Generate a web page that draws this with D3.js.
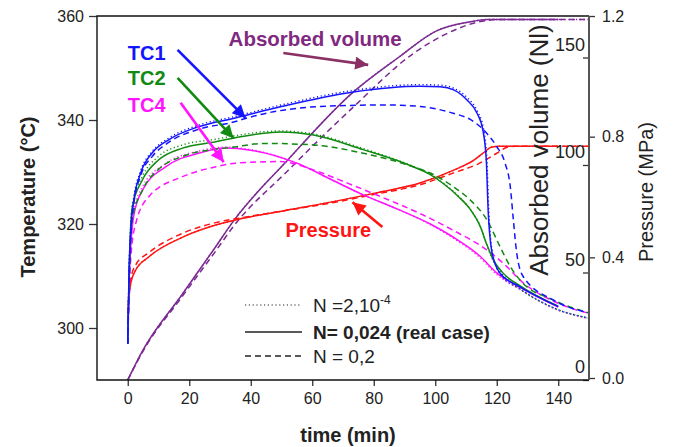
<!DOCTYPE html>
<html>
<head>
<meta charset="utf-8">
<script src="https://cdnjs.cloudflare.com/ajax/libs/d3/7.8.5/d3.min.js"></script>
<style>
body{margin:0;background:#fff;}
svg text{font-family:"Liberation Sans",Arial,sans-serif;fill:#222;}
</style>
</head>
<body>
<div id="chart"></div>
<script>
// time (min), temperature (degC) / volume (Nl) / pressure (MPa)
var timeTicks = [0,20,40,60,80,100,120,140];
var tempTicks = [300,320,340,360];
var volTicks = [0,50,100,150];
var presTicks = [0,0.4,0.8,1.2];

var tc1Solid = [[0,297],[0.4,310],[1,318.8],[2,324.6],[4.2,329.8],[8,333.7],[13.3,336.2],[23,338.7],[35,340.4],[50,342.6],[73.4,345.4],[95,346.5],[101.6,346.4],[106,345.8],[110.4,343.8],[113.6,341.3],[115.5,338],[116.6,332.3],[117.2,322.7],[118.5,314.4],[121,310.6],[127.6,307.9],[140,304.1]];
var tc1Dotted = [[0,297],[0.4,310.5],[1,319.2],[2,325],[4.2,330.2],[8,334],[13.3,336.5],[23,339],[35,340.7],[50,342.9],[73.4,345.7],[95,346.8],[101.6,346.7],[106,346.1],[110.4,344.3],[113.6,341.8],[115.7,338.3],[116.8,332.3],[117.4,322.7],[118.7,314.2],[121.2,310.3],[127.6,307.5],[139.6,303.6],[150,301.9]];
var tc1Dashed = [[0,297],[0.5,310],[1,318],[2,324],[4.2,329.3],[8,333],[13.3,335.7],[23,338.2],[35,339.7],[37.7,340.2],[62.7,342.6],[84.4,342.9],[95.1,342.6],[105.8,341.3],[111.4,340.1],[116.8,337.4],[120,334.9],[122.7,331.7],[124.4,327.2],[125.4,320.8],[126.5,314.4],[128.6,309.9],[138.3,305.4],[150,302.9]];

var tc2Solid = [[0,297],[0.5,312],[1.5,323.3],[4.8,328.5],[10,332.3],[17.8,334.6],[28.6,335.8],[35,336.6],[49.7,337.7],[60.4,337.1],[76.6,334.3],[87.6,332.2],[92,331.2],[98.4,329.5],[103,327.6],[107.5,325.3],[111.4,322.8],[114.6,319.6],[116.8,316],[118.8,313.2],[122,310.6],[127.6,308.1],[140,304.2]];
var tc2Dotted = [[0,297],[0.5,312.5],[1.5,323.8],[4.8,329.2],[10,333],[17.8,335.2],[28.6,336.3],[35,337],[49.7,337.9],[60.4,337.3],[76.6,334.5],[87.6,332.3],[92,331.3],[98.4,329.6],[103,327.7],[107.5,325.4],[111.4,322.8],[114.6,319.6],[116.8,315.9],[118.8,313],[122,310.3],[127.6,307.5],[139.6,303.6],[150,301.9]];
var tc2Dashed = [[0,297],[0.5,310],[1.5,321],[4.8,326.5],[10,330.5],[17.8,333],[28.6,334.4],[33.4,334.7],[44.2,335.5],[60.4,335.2],[76.6,333.6],[92.9,331],[98.4,329.8],[105.8,327.2],[111.4,324.6],[116.8,320.8],[121.1,315.6],[124.4,311.8],[127.6,309.2],[138.3,305.4],[150,302.9]];

var tc4Solid = [[0,297],[0.4,308],[1.9,321.4],[4.8,326.5],[12.3,331],[23,333.6],[31.8,334.6],[40,334.2],[55,331.7],[66,328.6],[76.6,325.6],[87.6,322.9],[98.4,320],[105.8,317.5],[114.6,313.8],[120,310.6],[127.6,307.8],[140,304]];
var tc4Dotted = [[0,297],[0.4,308.5],[1.9,322],[4.8,327.2],[12.3,331.6],[23,334],[31.8,334.8],[40,334.3],[55,331.7],[66,328.6],[76.6,325.6],[87.6,322.9],[98.4,319.9],[105.8,317.3],[114.6,313.5],[120,310.3],[127.6,307.4],[139.6,303.5],[150,301.8]];
var tc4Dashed = [[0,297],[0.5,308],[1.2,315],[2.6,320.1],[6.9,325.3],[17.8,329.1],[28.6,331],[35,331.7],[49.7,332],[60.4,330.4],[71.3,327.9],[82.1,325.3],[95.1,322],[105.8,318.8],[116.8,315],[123.3,311.8],[127.6,309.2],[138.3,305.2],[150,302.8]];

var presSolid = [[0,0.18],[0.3,0.25],[1,0.315],[2.6,0.358],[6.8,0.401],[17.9,0.467],[28.6,0.507],[35,0.524],[50,0.553],[66,0.583],[80,0.612],[95.5,0.648],[106,0.689],[112.7,0.723],[116,0.749],[118.2,0.765],[121,0.768],[140,0.768]];
var presDotted = [[0,0.18],[0.3,0.25],[1,0.315],[2.6,0.358],[6.8,0.401],[17.9,0.467],[28.6,0.507],[35,0.524],[50,0.553],[66,0.583],[80,0.612],[95.5,0.648],[106,0.689],[112.7,0.723],[116,0.749],[118.2,0.765],[121,0.768],[150,0.768]];
var presDashed = [[0,0.18],[0.3,0.26],[1,0.33],[2.6,0.375],[6.8,0.415],[17.9,0.48],[28.6,0.515],[38,0.533],[50,0.553],[66,0.58],[80,0.608],[95.5,0.642],[106,0.68],[114,0.71],[120,0.745],[123.4,0.765],[126,0.768],[150,0.768]];

var volSolid = [[0,0],[4.8,13.5],[17.8,40],[28.6,62],[34.4,74],[51.8,102],[73.4,134],[88,150],[100.6,162.5],[111,166.5],[117,167.7],[140,167.7]];
var volDotted = [[0,0],[4.8,13.5],[17.8,40],[28.6,62],[34.4,74],[51.8,102],[73.4,134],[88,150],[100.6,162.5],[111,166.5],[117,167.7],[150,167.7]];
var volDashed = [[0,0],[4.8,13],[17.8,39],[28.6,60],[34.4,71.5],[51.8,97],[73.4,127],[93,152],[103.6,161],[114.6,166.7],[121,167.7],[150,167.7]];

var blue = "#1414ff", green = "#108a10", magenta = "#ff14ff", red = "#ff1414", purple = "#7a2a92";

var margin = {top:16,right:85,bottom:67,left:97};
var width = 492;
var height = 364;

var svg = d3.select("#chart").append("svg")
    .attr("width", width + margin.left + margin.right)
    .attr("height", height + margin.top + margin.bottom)
    .append("g")
    .attr("transform", "translate(" + margin.left + "," + margin.top + ")");

var x = d3.scaleLinear().domain([-10,150]).range([0,width]);
var yT = d3.scaleLinear().domain([290,360]).range([height,0]);
var yV = d3.scaleLinear().domain([0,169.3]).range([height,0]);
var yP = d3.scaleLinear().domain([0,1.2]).range([height-2,0]);

var defs = svg.append("defs");
defs.append("clipPath").attr("id","plot").append("rect")
    .attr("width", width).attr("height", height);

var dashes = {solid:null, dotted:"1.2,2.6", dashed:"6,4"};

var series = [
    {d:volDotted, y:yV, c:purple, s:"dotted"},
    {d:volDashed, y:yV, c:purple, s:"dashed"},
    {d:volSolid, y:yV, c:purple, s:"solid"},
    {d:presDotted, y:yP, c:red, s:"dotted"},
    {d:presDashed, y:yP, c:red, s:"dashed"},
    {d:presSolid, y:yP, c:red, s:"solid"},
    {d:tc4Dotted, y:yT, c:magenta, s:"dotted"},
    {d:tc4Dashed, y:yT, c:magenta, s:"dashed"},
    {d:tc4Solid, y:yT, c:magenta, s:"solid"},
    {d:tc2Dotted, y:yT, c:green, s:"dotted"},
    {d:tc2Dashed, y:yT, c:green, s:"dashed"},
    {d:tc2Solid, y:yT, c:green, s:"solid"},
    {d:tc1Dotted, y:yT, c:blue, s:"dotted"},
    {d:tc1Dashed, y:yT, c:blue, s:"dashed"},
    {d:tc1Solid, y:yT, c:blue, s:"solid"}
];

var plot = svg.append("g").attr("clip-path","url(#plot)");
series.forEach(function (sr) {
    var line = d3.line()
        .x(function (d) { return x(d[0]); })
        .y(function (d) { return sr.y(d[1]); })
        .curve(d3.curveMonotoneX);
    plot.append("path")
        .datum(sr.d)
        .attr("d", line)
        .attr("fill","none")
        .attr("stroke", sr.c)
        .attr("stroke-width", sr.s == "dotted" ? 1.4 : 1.5)
        .attr("stroke-dasharray", dashes[sr.s]);
});

// axes
function styleAxis(g, size) {
    g.attr("font-size", size).attr("font-family", null);
    g.select(".domain").remove();
    g.selectAll("line").attr("stroke","#333").attr("stroke-width",1.3);
}

svg.append("g")
    .attr("transform","translate(0," + height + ")")
    .call(d3.axisBottom(x).tickValues(timeTicks).tickSize(6).tickPadding(7))
    .call(styleAxis, 16);

svg.append("g")
    .call(d3.axisLeft(yT).tickValues(tempTicks).tickSize(8).tickPadding(5))
    .call(styleAxis, 16);

svg.append("g")
    .attr("transform","translate(" + width + ",0)")
    .call(d3.axisRight(yP).tickValues(presTicks).tickFormat(d3.format(".1f")).tickSize(6).tickPadding(7))
    .call(styleAxis, 16);

svg.append("g")
    .attr("transform","translate(" + width + ",0)")
    .call(d3.axisRight(yV).tickValues(volTicks).tickSize(-6))
    .call(styleAxis, 18)
    .selectAll("text")
    .attr("x", -4)
    .attr("dy", "-0.4em")
    .style("text-anchor","end");

// frame
svg.append("path")
    .attr("d", "M" + width + ",0H0V" + height + "H" + width)
    .attr("fill","none").attr("stroke","#111").attr("stroke-width",1.4);
svg.append("line")
    .attr("x1", width).attr("x2", width).attr("y1", 0).attr("y2", height)
    .attr("stroke","#555").attr("stroke-width",2);

// axis titles
svg.append("text")
    .attr("transform","translate(-62," + (height/2 - 1) + ") rotate(-90)")
    .attr("text-anchor","middle").attr("font-size",20).attr("font-weight","bold")
    .text("Temperature (°C)");
svg.append("text")
    .attr("x", 251).attr("y", 426)
    .attr("text-anchor","middle").attr("font-size",20).attr("font-weight","bold")
    .text("time (min)");
svg.append("text")
    .attr("transform","translate(451,134) rotate(-90)")
    .attr("text-anchor","middle").attr("font-size",26)
    .text("Absorbed volume (Nl)");
svg.append("text")
    .attr("transform","translate(556,176) rotate(-90)")
    .attr("text-anchor","middle").attr("font-size",20)
    .text("Pressure (MPa)");

// annotations (time, temperature coords)
var notes = [
    {text:"TC1", t:0, T:351.5, c:blue, fs:20},
    {text:"TC2", t:0, T:346.7, c:green, fs:20},
    {text:"TC4", t:0, T:341.5, c:magenta, fs:20},
    {text:"Absorbed volume", t:32.8, T:354.2, c:"#7f2a80", fs:20.5},
    {text:"Pressure", t:51.3, T:317.5, c:red, fs:20}
];
var arrows = [
    {t0:16.2, T0:353.5, t1:38.3, T1:340.4, c:blue},
    {t0:16.2, T0:348.1, t1:34.4, T1:336.5, c:green},
    {t0:17.2, T0:343.3, t1:31.2, T1:331.9, c:magenta},
    {t0:50.6, T0:352.9, t1:78.2, T1:350.6, c:"#8a3064"},
    {t0:82.8, T0:319.4, t1:73.1, T1:324.2, c:red}
];

svg.selectAll(".note")
    .data(notes)
    .enter().append("text")
    .attr("class","note")
    .attr("x", function (d) { return x(d.t); })
    .attr("y", function (d) { return yT(d.T); })
    .attr("font-size", function (d) { return d.fs; }).attr("font-weight","bold")
    .style("fill", function (d) { return d.c; })
    .text(function (d) { return d.text; });

arrows.forEach(function (a, i) {
    defs.append("marker")
        .attr("id","ah" + i)
        .attr("viewBox","0 0 10 10")
        .attr("refX",10).attr("refY",5)
        .attr("markerUnits","userSpaceOnUse")
        .attr("markerWidth",15).attr("markerHeight",13)
        .attr("orient","auto")
        .append("path").attr("d","M0,0L10,5L0,10z").attr("fill", a.c);
    svg.append("line")
        .attr("x1", x(a.t0)).attr("y1", yT(a.T0))
        .attr("x2", x(a.t1)).attr("y2", yT(a.T1))
        .attr("stroke", a.c).attr("stroke-width", 2.6)
        .attr("marker-end","url(#ah" + i + ")");
});

// legend
var legend = svg.append("g").attr("transform","translate(148,289)");
var legItems = [
    {s:"dotted", y:0},
    {s:"solid", y:27},
    {s:"dashed", y:51}
];
legItems.forEach(function (it) {
    legend.append("line")
        .attr("x1",0).attr("x2",57).attr("y1",it.y).attr("y2",it.y)
        .attr("stroke","#222").attr("stroke-width", it.s == "dotted" ? 1 : 1.4)
        .attr("stroke-dasharray", dashes[it.s]);
});
var t1 = legend.append("text").attr("x",68).attr("y",7).attr("font-size",19);
t1.append("tspan").text("N =2,10");
t1.append("tspan").attr("dy",-8).attr("font-size",12).text("-4");
legend.append("text").attr("x",68).attr("y",34).attr("font-size",19).attr("font-weight","bold")
    .text("N= 0,024 (real case)");
legend.append("text").attr("x",68).attr("y",58).attr("font-size",19)
    .text("N = 0,2");
</script>
</body>
</html>
